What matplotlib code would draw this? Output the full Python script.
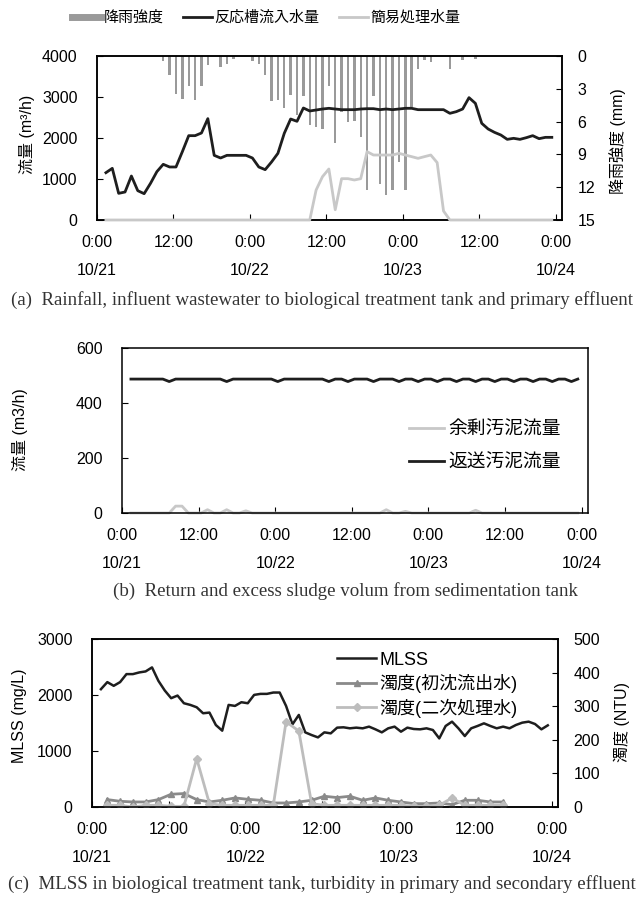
import numpy as np
import matplotlib
matplotlib.use('Agg')
import matplotlib.pyplot as plt
from matplotlib.lines import Line2D

plt.rcParams['font.family'] = ['Liberation Sans', 'Noto Sans CJK JP']
plt.rcParams['font.size'] = 11.5
plt.rcParams['axes.linewidth'] = 1.1

# hourly samples from 10/21 0:00 (hour index 1..71)
hours = np.arange(1, 72)
off = 0.4

# (a) influent / primary effluent flow (m3/h)
flow = [1154, 1260, 650, 683, 1073, 715, 642, 894, 1179, 1358,
        1293, 1293, 1667, 2057, 2057, 2122, 2472, 1577, 1512, 1577,
        1577, 1577, 1577, 1512, 1293, 1228, 1415, 1626, 2114, 2463,
        2407, 2732, 2659, 2683, 2707, 2724, 2707, 2691, 2691, 2691,
        2707, 2715, 2715, 2691, 2707, 2691, 2707, 2724, 2724, 2691,
        2691, 2691, 2691, 2691, 2602, 2642, 2707, 2984, 2846, 2358,
        2220, 2138, 2073, 1967, 1992, 1967, 2008, 2057, 1984, 2016,
        2016]
simple = [0] * 33 + [732, 1057, 1244, 250, 1008, 1008, 976, 1008, 1667, 1585,
                     1585, 1585, 1585, 1626, 1585, 1545, 1504, 1545, 1585, 1400,
                     220] + [0] * 17

rain_h = [10, 11, 12, 13, 14, 15, 16, 17, 19, 20, 21,
          24, 25, 26, 27, 28, 29, 30, 31, 32, 33, 34, 35, 36, 37, 38,
          39, 40, 41, 42, 43, 44, 45, 46, 47, 48, 49, 50, 51, 52,
          55, 57, 59]
rain_mm = [0.5, 1.7, 3.5, 3.9, 2.7, 4.05, 2.7, 0.85, 1.05, 0.7, 0.3,
           0.5, 0.7, 1.7, 4.15, 4.05, 4.75, 3.6, 5.4, 3.65, 6.3, 6.5, 6.65, 2.7, 7.95, 5.1,
           6.0, 5.9, 7.45, 12.3, 3.65, 11.7, 12.75, 12.3, 9.7, 12.3, 4.65, 1.15, 0.4, 0.55,
           1.15, 0.4, 0.25]

# (b) sludge flow (m3/h)
dips = [7, 16, 24, 32, 35, 39, 43, 46, 49, 52, 55, 58, 61, 64, 67, 70]
returned = [478 if h in dips else 487 for h in hours]
excess_pts = {8: 25, 9: 25, 13: 12, 16: 12, 19: 8, 41: 12, 44: 6, 55: 10}
excess = [excess_pts.get(h, 0) for h in hours]

# (c) MLSS (mg/L) and turbidity (NTU)
mlss = [2104, 2230, 2164, 2230, 2373, 2373, 2403, 2421, 2493, 2253,
        2080, 1943, 1990, 1853, 1823, 1781, 1674, 1686, 1464, 1363,
        1823, 1805, 1871, 1853, 2002, 2020, 2020, 2044, 2044, 1805,
        1476, 1644, 1333, 1285, 1243, 1333, 1315, 1417, 1423, 1405,
        1417, 1405, 1435, 1387, 1333, 1405, 1435, 1345, 1417, 1393,
        1387, 1405, 1375, 1225, 1447, 1524, 1405, 1267, 1405, 1447,
        1494, 1447, 1405, 1435, 1405, 1464, 1506, 1524, 1482, 1387,
        1458]
turb_h = list(range(2, 65, 2))
turb1 = [22, 17, 15, 15, 22, 38, 40, 22, 15, 20, 27, 23, 20, 12, 12, 15,
         20, 32, 28, 32, 20, 27, 20, 15, 10, 10, 12, 7, 20, 20, 15, 15]
turb2 = [5, 5, 0, 5, 5, 2, 2, 144, 10, 5, 5, 5, 5, 5, 254, 226,
         10, 5, 5, 5, 5, 5, 5, 5, 2, 2, 5, 27, 5, 5, 5, 5]

xt = [0, 12, 24, 36, 48, 60, 72]
xl = ['0:00\n10/21', '12:00', '0:00\n10/22', '12:00', '0:00\n10/23', '12:00', '0:00\n10/24']

BLACK = '#1e1e1e'
LIGHT = '#c8c8c8'
RAIN = '#9a9a9a'


def style_x(ax):
    ax.set_xlim(0, 73)
    ax.set_xticks(xt)
    ax.set_xticklabels(xl)
    for lab in ax.get_xticklabels():
        lab.set_linespacing(2.05)
    ax.tick_params(axis='x', direction='in', length=4, pad=11)


fig = plt.figure(figsize=(6.44, 9), dpi=100)

# ---- (a)
ax1 = fig.add_axes([97 / 644, 1 - 220 / 900, 465 / 644, 164 / 900])
ax1r = ax1.twinx()
ax1r.bar(np.array(rain_h) + off, rain_mm, width=0.38, color=RAIN)
ax1r.set_ylim(15, 0)
ax1r.set_yticks([0, 3, 6, 9, 12, 15])
ax1r.tick_params(direction='in', length=4, pad=11)
ax1.set_zorder(ax1r.get_zorder() + 1)
ax1.patch.set_visible(False)
ax1.plot(hours + off, simple, color=LIGHT, lw=2, clip_on=False, zorder=3)
ax1.plot(hours + off, flow, color=BLACK, lw=2)
ax1.set_ylim(0, 4000)
ax1.set_yticks([0, 1000, 2000, 3000, 4000])
ax1.tick_params(axis='y', direction='in', length=4, pad=14)
style_x(ax1)
fig.text(27 / 644, 1 - 134 / 900, '流量 (m³/h)', rotation=90, ha='center', va='center', fontsize=11.5)
fig.text(618 / 644, 1 - 141 / 900, '降雨強度 (mm)', rotation=90, ha='center', va='center', fontsize=11.5)
h1 = [Line2D([0], [0], color=RAIN, lw=5), Line2D([0], [0], color=BLACK, lw=2),
      Line2D([0], [0], color=LIGHT, lw=2)]
fig.legend(h1, ['降雨強度', '反応槽流入水量', '簡易処理水量'], loc='center left',
           bbox_to_anchor=(72 / 644, 1 - 18 / 900), ncol=3, frameon=False,
           handlelength=1.9, handletextpad=0.2, columnspacing=1.3, fontsize=10.8,
           borderpad=0, borderaxespad=0)

# ---- (b)
ax2 = fig.add_axes([122 / 644, 1 - 513 / 900, 466 / 644, 165 / 900])
ax2.plot(hours + off, excess, color=LIGHT, lw=2, label='余剰汚泥流量', clip_on=False)
ax2.plot(hours + off, returned, color=BLACK, lw=2, label='返送汚泥流量')
ax2.set_ylim(0, 600)
ax2.set_yticks([0, 200, 400, 600])
ax2.tick_params(axis='y', direction='in', length=4, pad=14)
style_x(ax2)
ax2.legend(loc='upper left', bbox_to_anchor=(0.615, 0.555), frameon=False, fontsize=13.5,
           handlelength=1.9, handletextpad=0.2, labelspacing=0.85, borderpad=0, borderaxespad=0)
fig.text(20 / 644, 1 - 430 / 900, '流量 (m3/h)', rotation=90, ha='center', va='center', fontsize=11.5)

# ---- (c)
ax3 = fig.add_axes([92 / 644, 1 - 807 / 900, 466 / 644, 168 / 900])
ax3r = ax3.twinx()
l1, = ax3.plot(hours + off, mlss, color=BLACK, lw=1.8)
l2, = ax3r.plot(np.array(turb_h) + off, turb1, color='#8a8a8a', lw=2, marker='^', ms=5)
l3, = ax3r.plot(np.array(turb_h) + off, turb2, color='#bdbdbd', lw=2, marker='D', ms=3.8)
ax3.set_ylim(0, 3000)
ax3.set_yticks([0, 1000, 2000, 3000])
ax3r.set_ylim(0, 500)
ax3r.set_yticks([0, 100, 200, 300, 400, 500])
ax3.tick_params(axis='y', direction='in', length=4, pad=14)
ax3r.tick_params(direction='in', length=4, pad=11)
style_x(ax3)
ax3r.legend([l1, l2, l3], ['MLSS', '濁度(初沈流出水)', '濁度(二次処理水)'], loc='upper left',
            bbox_to_anchor=(0.525, 0.925), frameon=False, fontsize=13,
            handlelength=2.2, handletextpad=0.15, labelspacing=0.3, borderpad=0, borderaxespad=0)
fig.text(20 / 644, 1 - 716 / 900, 'MLSS (mg/L)', rotation=90, ha='center', va='center', fontsize=11.5)
fig.text(622 / 644, 1 - 722 / 900, '濁度 (NTU)', rotation=90, ha='center', va='center', fontsize=11.5)

# captions
cap = dict(family='Liberation Serif', fontsize=13.6, color='#333333', ha='center', va='center')
fig.text(0.5, 1 - 300 / 900,
         '(a)  Rainfall, influent wastewater to biological treatment tank and primary effluent', **cap)
fig.text(345 / 644, 1 - 591 / 900, '(b)  Return and excess sludge volum from sedimentation tank', **cap)
fig.text(0.5, 1 - 884 / 900,
         '(c)  MLSS in biological treatment tank, turbidity in primary and secondary effluent', **cap)

fig.savefig('out.png', dpi=100)
